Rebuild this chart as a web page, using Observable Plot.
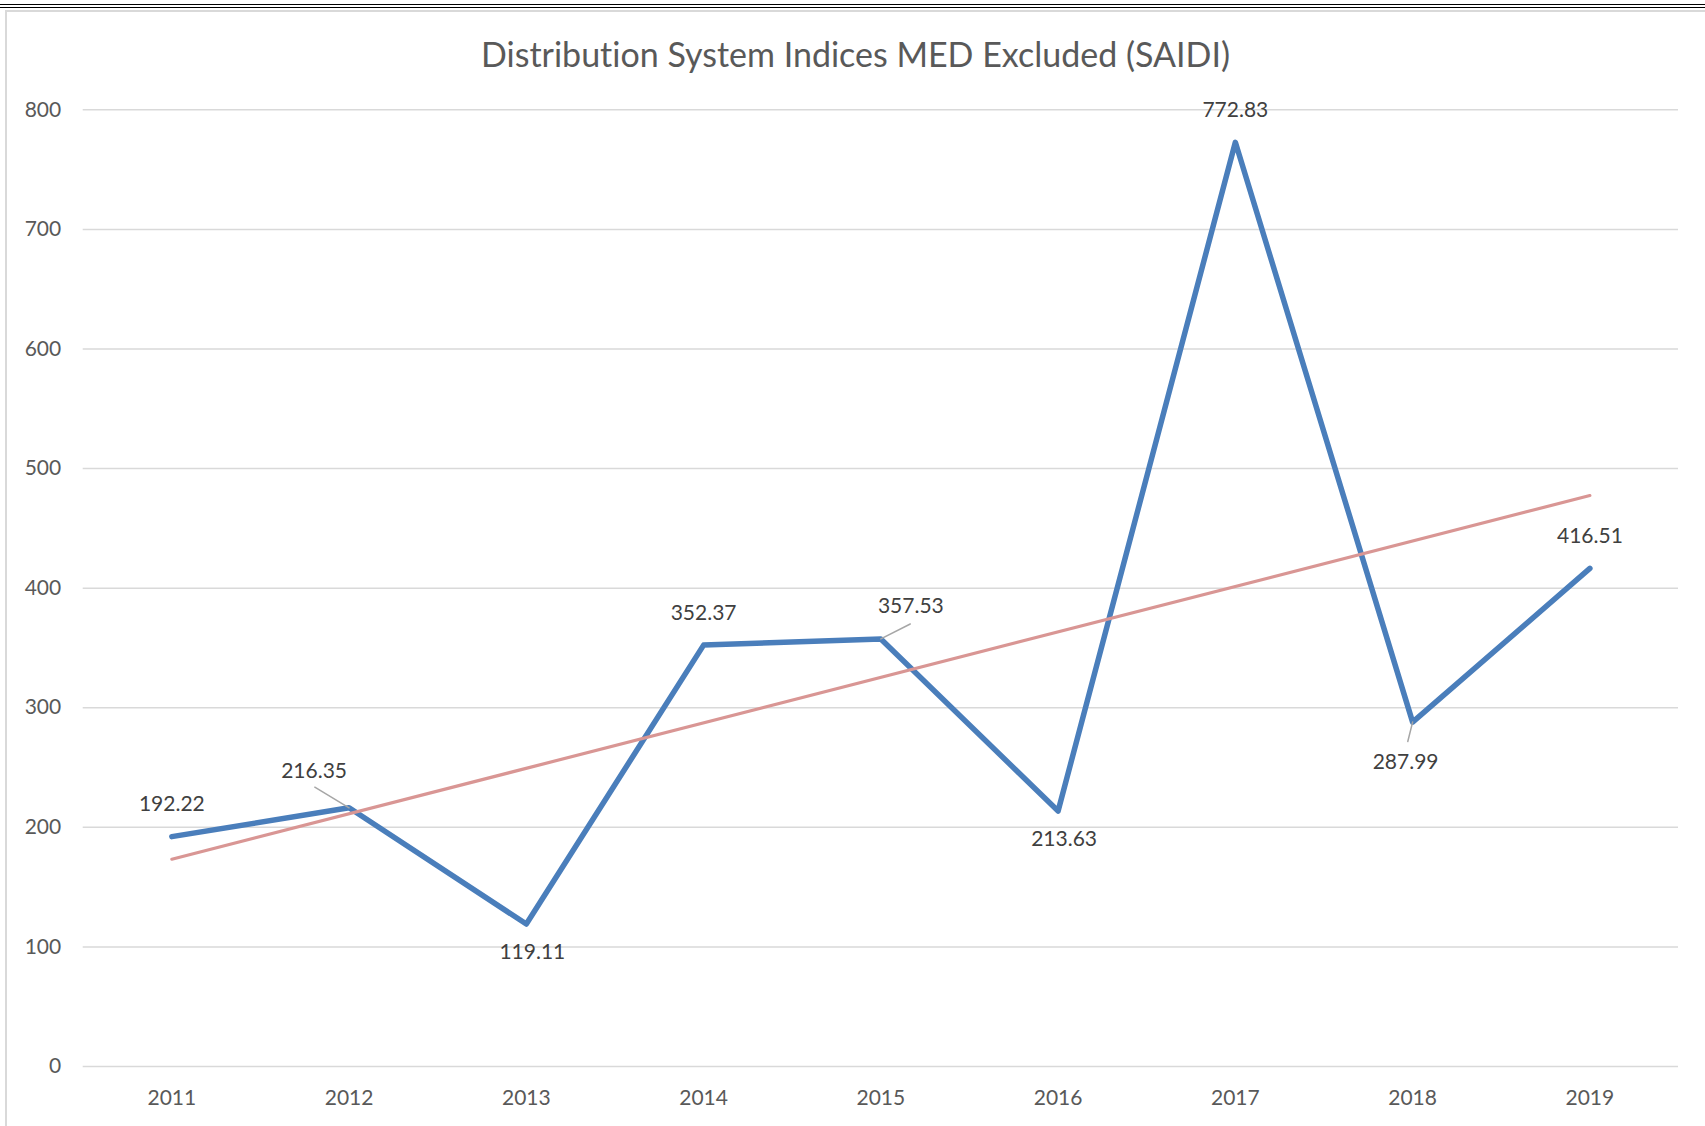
<!DOCTYPE html>
<html>
<head>
<meta charset="utf-8">
<script src="https://cdn.jsdelivr.net/npm/d3@7"></script>
<script src="https://cdn.jsdelivr.net/npm/@observablehq/plot@0.6"></script>
<style>
  html, body { margin: 0; padding: 0; background: #fff; font-variant-ligatures: none; }
  #page { position: relative; width: 1705px; height: 1126px; overflow: hidden; background: #fff; }
  #rule { position: absolute; left: 0; top: 4px; width: 1705px; height: 0; border-top: 4px double #000; }
  #frame { position: absolute; left: 5px; top: 10px; width: 1700px; height: 1116px; border-left: 2px solid #d9d9d9; border-top: 2px solid #d9d9d9; box-sizing: border-box; }
  #title { position: absolute; left: 6px; right: 0; top: 37px; text-align: center; font-family: Lato, sans-serif; font-size: 34px; line-height: 34px; color: #595959; white-space: nowrap; font-variant-ligatures: none; }
  #chart { position: absolute; left: 0; top: 80px; }
  #chart svg text { font-variant-ligatures: none; }
</style>
</head>
<body>
<div id="page">
  <div id="rule"></div>
  <div id="frame"></div>
  <div id="title">Distribution System Indices MED Excluded (SAIDI)</div>
  <div id="chart"></div>
</div>
<script>
// ---- data ----
const years = [2011, 2012, 2013, 2014, 2015, 2016, 2017, 2018, 2019];
const saidi = [192.22, 216.35, 119.11, 352.37, 357.53, 213.63, 772.83, 287.99, 416.51];
const yTicks = [0, 100, 200, 300, 400, 500, 600, 700, 800];
const labelPlacement = ["above", "aboveLeft", "belowRight", "above", "aboveRight", "belowRight", "above", "below", "above"];

// ---- label placement styles (pixel offsets) ----
const placementOffsets = {
  above: {dx: 0, dy: -32},
  aboveLeft: {dx: -35, dy: -37},
  belowRight: {dx: 6, dy: 28},
  aboveRight: {dx: 30, dy: -33},
  below: {dx: -7, dy: 40}
};
const leaderStyles = {
  aboveLeft: {rotate: -59, length: 40},
  aboveRight: {rotate: 63, length: 33},
  below: {rotate: 194, length: 20}
};

const table = years.map((year, i) => ({year, value: saidi[i], place: labelPlacement[i]}));

const marks = [
  Plot.gridY(yTicks, {stroke: "#d9d9d9", strokeOpacity: 1, strokeWidth: 1.5}),
  Plot.axisY(yTicks, {tickSize: 0, tickPadding: 22, fontSize: 21, fill: "#595959", label: null}),
  Plot.axisX(years, {tickSize: 0, tickPadding: 24, fontSize: 21, fill: "#595959", tickFormat: d => String(d), label: null}),
  Plot.line(table, {x: "year", y: "value", stroke: "#4a7ebb", strokeWidth: 5.5, strokeLinejoin: "round"}),
  Plot.linearRegressionY(table, {x: "year", y: "value", stroke: "#d99694", strokeWidth: 3.2, ci: 0})
];

for (const [place, st] of Object.entries(leaderStyles)) {
  marks.push(Plot.vector(table.filter(d => d.place === place), {
    x: "year", y: "value", anchor: "start", rotate: st.rotate, length: st.length,
    shape: "arrow", r: 0, stroke: "#a6a6a6", strokeWidth: 1.5
  }));
}
for (const [place, off] of Object.entries(placementOffsets)) {
  marks.push(Plot.text(table.filter(d => d.place === place), {
    x: "year", y: "value", text: d => d.value.toFixed(2),
    dx: off.dx, dy: off.dy, fill: "#404040", fontSize: 21
  }));
}

const chart = Plot.plot({
  width: 1705,
  height: 1046,
  marginTop: 29.3,
  marginBottom: 60,
  marginLeft: 82.7,
  marginRight: 27,
  style: {fontFamily: "Lato, sans-serif", background: "transparent", overflow: "visible"},
  x: {type: "linear", domain: [2010.5, 2019.5], axis: null},
  y: {domain: [0, 800], axis: null},
  marks
});
document.getElementById("chart").appendChild(chart);
</script>
</body>
</html>
